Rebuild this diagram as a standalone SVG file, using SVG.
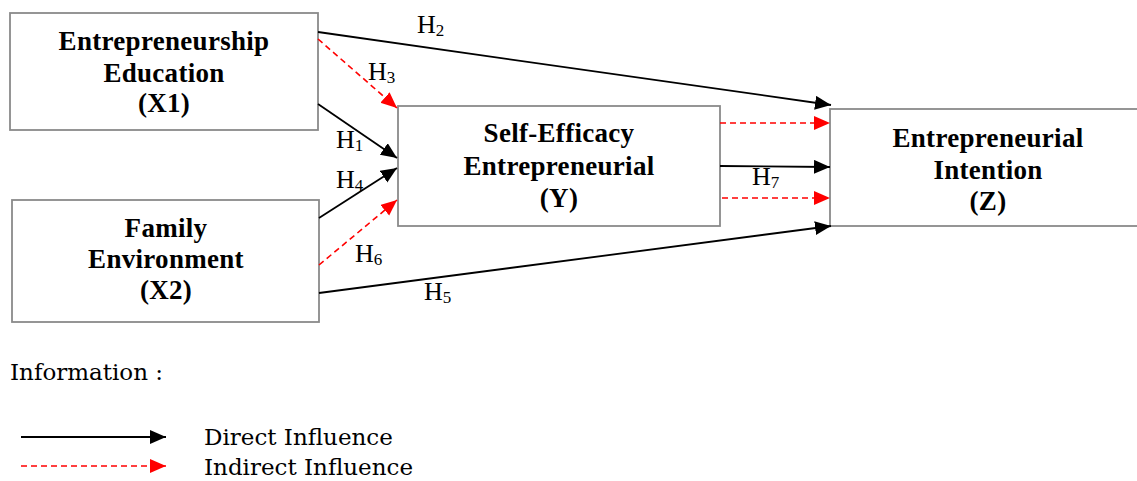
<svg xmlns="http://www.w3.org/2000/svg" width="1137" height="481" viewBox="0 0 1137 481">
<defs>
<marker id="ab" markerUnits="userSpaceOnUse" markerWidth="17" markerHeight="15" refX="16" refY="7" orient="auto"><path d="M0,0 L16,7 L0,14 z" fill="#000"/></marker>
<marker id="ar" markerUnits="userSpaceOnUse" markerWidth="17" markerHeight="15" refX="16" refY="7" orient="auto"><path d="M0,0 L16,7 L0,14 z" fill="#ff0000"/></marker>
<style>
.box{fill:#fff;stroke:#8a8a8a;stroke-width:1.8}
.t{font-family:"Liberation Serif","Times New Roman",serif;font-weight:bold;font-size:27px;fill:#000;text-anchor:middle;letter-spacing:0.3px}
.d{stroke:#000;stroke-width:1.8;fill:none;marker-end:url(#ab)}
.r{stroke:#ff0000;stroke-width:1.6;fill:none;stroke-dasharray:6 4;marker-end:url(#ar)}
.h{font-family:"Liberation Serif","Times New Roman",serif;font-size:26px;fill:#000}
.s{font-size:17px}
.lg{font-family:"DejaVu Serif",serif;font-size:23px;fill:#000}
</style>
</defs>
<g id="X1"><rect class="box" x="10" y="13" width="308" height="117"/>
<text class="t" x="164" y="50">Entrepreneurship</text><text class="t" x="164" y="82">Education</text><text class="t" x="164" y="112">(X1)</text></g>
<g id="X2"><rect class="box" x="12" y="200" width="307" height="122"/>
<text class="t" x="166" y="237">Family</text><text class="t" x="166" y="268">Environment</text><text class="t" x="166" y="299">(X2)</text></g>
<g id="Y"><rect class="box" x="398" y="106" width="322" height="120"/>
<text class="t" x="559" y="142">Self-Efficacy</text><text class="t" x="559" y="175">Entrepreneurial</text><text class="t" x="559" y="207">(Y)</text></g>
<g id="Z"><rect class="box" x="830" y="109" width="330" height="117"/>
<text class="t" x="988" y="147">Entrepreneurial</text><text class="t" x="988" y="179">Intention</text><text class="t" x="988" y="210">(Z)</text></g>
<g id="connectors">
<line class="d" x1="318" y1="32" x2="831" y2="105"/>
<line class="r" x1="318" y1="39" x2="397" y2="108"/>
<line class="d" x1="318" y1="104" x2="397" y2="158"/>
<line class="d" x1="319" y1="218" x2="397" y2="168"/>
<line class="r" x1="319" y1="265" x2="397" y2="200"/>
<line class="d" x1="319" y1="293" x2="831" y2="226"/>
<line class="r" x1="720" y1="123" x2="830" y2="123"/>
<line class="d" x1="720" y1="166" x2="830" y2="167"/>
<line class="r" x1="722" y1="198" x2="830" y2="198"/>
</g>
<g id="labels">
<text class="h" x="417" y="33">H<tspan class="s" dy="3">2</tspan></text>
<text class="h" x="368" y="80">H<tspan class="s" dy="3">3</tspan></text>
<text class="h" x="336" y="148">H<tspan class="s" dy="3">1</tspan></text>
<text class="h" x="336" y="188">H<tspan class="s" dy="3">4</tspan></text>
<text class="h" x="355" y="262">H<tspan class="s" dy="3">6</tspan></text>
<text class="h" x="424" y="300">H<tspan class="s" dy="3">5</tspan></text>
<text class="h" x="752" y="185">H<tspan class="s" dy="3">7</tspan></text>
</g>
<g id="legend">
<text class="lg" x="10" y="380">Information :</text>
<line class="d" x1="21" y1="437" x2="166" y2="437"/>
<line class="r" x1="21" y1="466" x2="166" y2="466"/>
<text class="lg" x="204" y="445">Direct Influence</text>
<text class="lg" x="204" y="475">Indirect Influence</text>
</g>
</svg>
